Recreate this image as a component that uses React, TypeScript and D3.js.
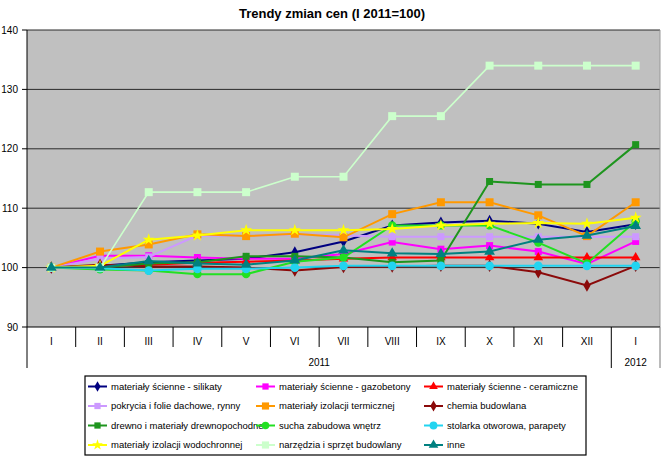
import { useEffect, useRef } from 'react'
import * as d3 from 'd3'

// month labels (I 2011 .. I 2012)
const months = ['I', 'II', 'III', 'IV', 'V', 'VI', 'VII', 'VIII', 'IX', 'X', 'XI', 'XII', 'I']
const yTicks = [90, 100, 110, 120, 130, 140]

const names = [
  'materiały ścienne - silikaty',
  'materiały ścienne -  gazobetony',
  'materiały ścienne - ceramiczne',
  'pokrycia i folie dachowe, rynny',
  'materiały izolacji termicznej',
  'chemia budowlana',
  'drewno i materiały drewnopochodne',
  'sucha zabudowa wnętrz',
  'stolarka otworowa, parapety',
  'materiały izolacji wodochronnej',
  'narzędzia i sprzęt budowlany',
  'inne',
]

const silikaty = [100, 100.3, 100.9, 101.2, 101.5, 102.6, 104.4, 107.1, 107.6, 107.9, 107.4, 106.0, 107.3]
const gazobetony = [100, 102.0, 102.0, 101.7, 101.5, 101.5, 102.3, 104.3, 103.1, 103.7, 102.7, 100.6, 104.4]
const ceramiczne = [100, 100.3, 100.5, 100.8, 101.0, 101.2, 101.5, 101.7, 101.7, 101.7, 101.7, 101.7, 101.7]
const pokrycia = [100, 101.5, 101.8, 105.4, 105.3, 105.6, 105.4, 105.2, 105.2, 105.2, 105.2, 105.2, 105.2]
const izolacjiTermicznej = [100, 102.7, 103.9, 105.6, 105.3, 105.7, 105.1, 109.0, 111.0, 111.0, 108.8, 105.3, 111.0]
const chemia = [100, 100.5, 100.2, 100.2, 100.0, 99.5, 100.1, 100.2, 100.3, 100.3, 99.2, 97.0, 100.3]
const drewno = [100, 100, 100.7, 100.9, 101.9, 101.9, 101.7, 100.9, 101.2, 114.5, 114.0, 114.0, 120.7]
const suchaZabudowa = [100, 99.7, 99.5, 98.9, 98.9, 101.0, 101.7, 107.1, 107.1, 107.1, 104.2, 100.7, 107.8]
const stolarka = [100, 99.9, 99.5, 99.8, 99.8, 100.0, 100.3, 100.3, 100.3, 100.3, 100.3, 100.3, 100.3]
const wodochronnej = [100, 100.3, 104.7, 105.4, 106.3, 106.3, 106.3, 106.5, 107.1, 107.4, 107.5, 107.4, 108.4]
const narzedzia = [100, 100, 112.7, 112.7, 112.7, 115.3, 115.3, 125.5, 125.5, 134.0, 134.0, 134.0, 134.0]
const inne = [100, 100, 101.1, 100.7, 100.5, 101.2, 102.9, 102.4, 102.3, 102.7, 104.7, 105.4, 107.0]

const seriesValues = [
  silikaty, gazobetony, ceramiczne, pokrycia, izolacjiTermicznej, chemia,
  drewno, suchaZabudowa, stolarka, wodochronnej, narzedzia, inne,
]
const colors = [
  '#000080', '#ff00ff', '#ff0000', '#cc99ff', '#ff9900', '#8b0a0a',
  '#1e951e', '#22e022', '#22d4f0', '#ffff00', '#ccffcc', '#008080',
]
const shapes = [
  d3.symbolDiamond, d3.symbolSquare, d3.symbolTriangle, d3.symbolSquare, d3.symbolSquare, d3.symbolDiamond,
  d3.symbolSquare, d3.symbolCircle, d3.symbolCircle, d3.symbolStar, d3.symbolSquare, d3.symbolTriangle,
]
const sizes = [40, 49, 40, 49, 64, 45, 49, 55, 60, 45, 64, 50]

export default function App() {
  const svgRef = useRef(null)

  useEffect(() => {
    if (!svgRef.current) return
    const width = 664
    const height = 458
    const font = '"Liberation Sans", Arial, sans-serif'

    d3.select(svgRef.current).selectAll('*').remove()
    const svg = d3.select(svgRef.current).attr('width', width).attr('height', height)

    svg.append('rect').attr('width', width).attr('height', height).attr('fill', '#fff')

    const x = d3.scaleBand().domain(months.map((m, i) => String(i))).range([27, 660]).padding(0)
    const y = d3.scaleLinear().domain([90, 140]).range([327, 30])
    const cx = (i) => x(String(i)) + x.bandwidth() / 2

    // Title
    svg.append('text')
      .attr('x', 332).attr('y', 18)
      .attr('text-anchor', 'middle')
      .style('font-family', font).style('font-size', '13px').style('font-weight', 'bold')
      .text('Trendy zmian cen (I 2011=100)')

    // plot area
    svg.append('rect')
      .attr('x', 27).attr('y', 30).attr('width', 633).attr('height', 297)
      .attr('fill', '#c0c0c0')

    // gridlines + y labels
    yTicks.forEach(t => {
      if (t !== 90) {
        svg.append('line').attr('x1', 27).attr('x2', 660).attr('y1', y(t)).attr('y2', y(t))
          .attr('stroke', '#2a2a2a').attr('stroke-width', 1)
      }
      svg.append('line').attr('x1', 22).attr('x2', 27).attr('y1', y(t)).attr('y2', y(t))
        .attr('stroke', '#000')
      svg.append('text').attr('x', 18).attr('y', y(t)).attr('dy', '0.35em')
        .attr('text-anchor', 'end')
        .style('font-family', font).style('font-size', '10px')
        .text(t)
    })
    svg.append('line').attr('x1', 660).attr('x2', 660).attr('y1', 30).attr('y2', 327)
      .attr('stroke', '#999')

    // category axis
    const axis = svg.append('g').attr('stroke', '#000').attr('stroke-width', 1)
    axis.append('line').attr('x1', 27).attr('x2', 660).attr('y1', 327).attr('y2', 327)
    axis.append('line').attr('x1', 27).attr('x2', 27).attr('y1', 30).attr('y2', 368)
    months.forEach((m, i) => {
      if (i === 0) return
      const bx = x(String(i))
      axis.append('line').attr('x1', bx).attr('x2', bx).attr('y1', 327)
        .attr('y2', i === 12 ? 368 : 347)
    })
    axis.append('line').attr('x1', 660).attr('x2', 660).attr('y1', 327).attr('y2', 368)
      .attr('stroke', '#777')

    svg.append('g').selectAll('text').data(months).enter().append('text')
      .attr('x', (d, i) => cx(i)).attr('y', 341).attr('dy', '0.35em')
      .attr('text-anchor', 'middle')
      .style('font-family', font).style('font-size', '10px')
      .text(d => d)

    const years = [['2011', 0, 12], ['2012', 12, 13]]
    years.forEach(([label, a, b]) => {
      const x0 = x(String(a))
      const x1 = b === 13 ? 660 : x(String(b))
      svg.append('text').attr('x', (x0 + x1) / 2).attr('y', 362).attr('dy', '0.35em')
        .attr('text-anchor', 'middle')
        .style('font-family', font).style('font-size', '10px')
        .text(label)
    })

    // series lines
    const line = d3.line().x((d, i) => cx(i)).y(d => y(d))
    seriesValues.forEach((vals, s) => {
      const g = svg.append('g')
      g.append('path').datum(vals).attr('d', line)
        .attr('fill', 'none').attr('stroke', colors[s])
        .attr('stroke-width', s === 10 ? 1.6 : 2)
      g.selectAll('path.m').data(vals).enter().append('path').attr('class', 'm')
        .attr('transform', (d, i) => `translate(${cx(i)},${y(d)})`)
        .attr('d', d3.symbol().type(shapes[s]).size(sizes[s]))
        .attr('fill', colors[s])
    })

    // Legend
    const legend = svg.append('g')
    legend.append('rect').attr('x', 85).attr('y', 376).attr('width', 501).attr('height', 79)
      .attr('fill', '#fff').attr('stroke', '#000').attr('stroke-width', 1.2)
    names.forEach((n, i) => {
      const col = i % 3
      const row = Math.floor(i / 3)
      const lx = 88 + col * 168
      const ly = 386.5 + row * 19.5
      legend.append('line').attr('x1', lx).attr('x2', lx + 19).attr('y1', ly).attr('y2', ly)
        .attr('stroke', colors[i]).attr('stroke-width', 2)
      legend.append('path').attr('transform', `translate(${lx + 9.5},${ly})`)
        .attr('d', d3.symbol().type(shapes[i]).size(sizes[i] * 0.8))
        .attr('fill', colors[i])
      legend.append('text').attr('x', lx + 23).attr('y', ly).attr('dy', '0.35em')
        .style('font-family', font).style('font-size', '9.5px')
        .text(n)
    })
  }, [])

  return (
    <svg ref={svgRef} style={{ position: 'absolute', left: 0, top: 0, display: 'block' }}></svg>
  )
}
